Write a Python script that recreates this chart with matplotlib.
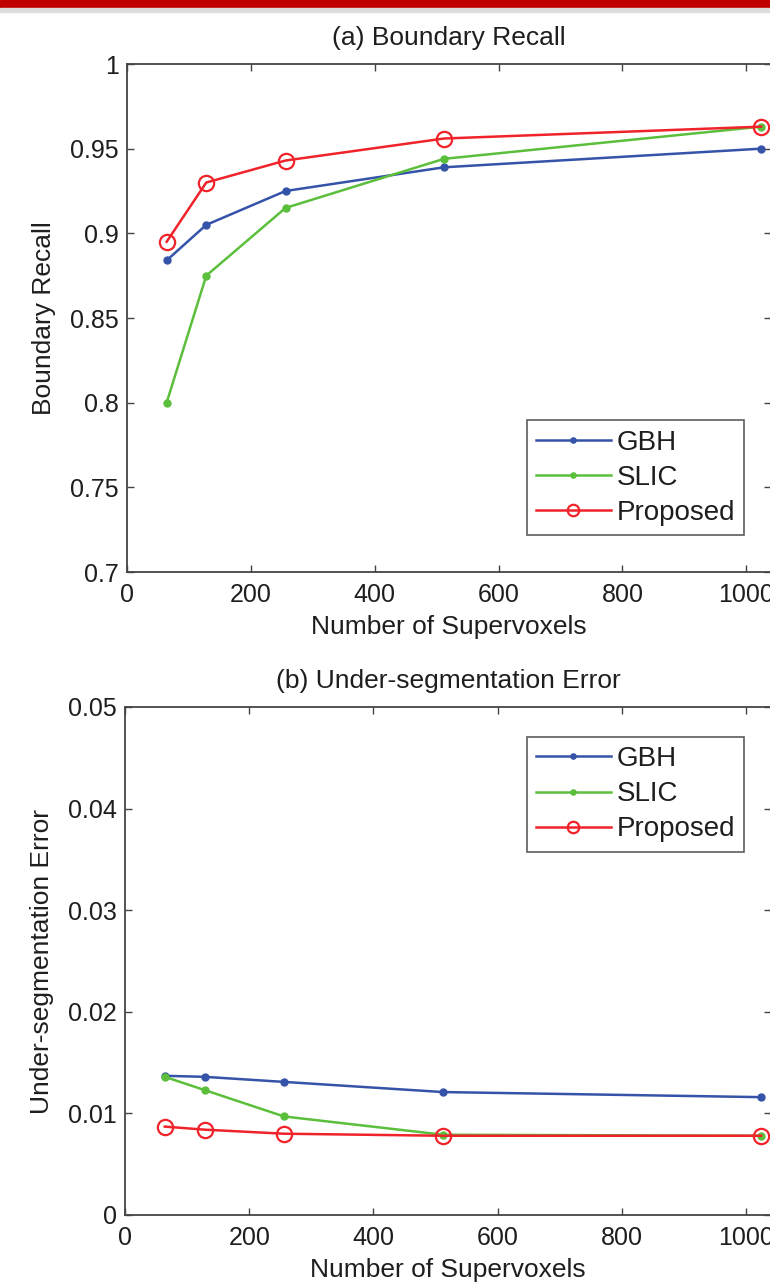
import matplotlib
matplotlib.use("Agg")
import matplotlib.pyplot as plt
from matplotlib.patches import Rectangle

plt.rcParams['font.family'] = ['Liberation Sans', 'DejaVu Sans']

# data
supervoxels = [64, 128, 256, 512, 1024]

recall_gbh = [0.884, 0.905, 0.925, 0.939, 0.950]
recall_slic = [0.800, 0.875, 0.915, 0.944, 0.963]
recall_prop = [0.895, 0.930, 0.943, 0.956, 0.963]

use_gbh = [0.0137, 0.0136, 0.0131, 0.0121, 0.0116]
use_slic = [0.0136, 0.0123, 0.0097, 0.0079, 0.0078]
use_prop = [0.0087, 0.0084, 0.0080, 0.0078, 0.0078]

series_names = ["GBH", "SLIC", "Proposed"]
x_ticks = [0, 200, 400, 600, 800, 1000]
recall_ticks = [0.7, 0.75, 0.8, 0.85, 0.9, 0.95, 1.0]
recall_labels = ["0.7", "0.75", "0.8", "0.85", "0.9", "0.95", "1"]
use_ticks = [0, 0.01, 0.02, 0.03, 0.04, 0.05]
use_labels = ["0", "0.01", "0.02", "0.03", "0.04", "0.05"]

blue = "#3553a8"
green = "#5cbf3c"
red = "#f0232a"
text_col = "#1e1e1e"

fig = plt.figure(figsize=(7.7, 12.87), dpi=100)

# red strip at the top of the page
fig.patches.append(Rectangle((0, 1 - 8 / 1287), 1, 8 / 1287, transform=fig.transFigure,
                             color="#c00000", zorder=0))
fig.patches.append(Rectangle((0, 1 - 12 / 1287), 1, 4 / 1287, transform=fig.transFigure,
                             color="#dddddd", zorder=0))

ax1 = fig.add_axes([127 / 770, 1 - 572 / 1287, 644 / 770, 508 / 1287])
ax2 = fig.add_axes([125 / 770, 1 - 1215 / 1287, 646 / 770, 508 / 1287])

# legend box corners in pixels, converted to axes fractions below
legend_anchor = {
    "lower right": ((744 - 127) / 644, (572 - 535) / 508),
    "upper right": ((744 - 125) / 646, 1 - (737 - 707) / 508),
}


def draw(ax, gbh, slic, prop, yticks, ylabels, ylim, title, ylabel, legend_loc):
    ax.plot(supervoxels, gbh, "-o", color=blue, lw=1.8, ms=5, label=series_names[0])
    ax.plot(supervoxels, slic, "-o", color=green, lw=1.8, ms=5, label=series_names[1])
    ax.plot(supervoxels, prop, "-o", color=red, lw=1.8, ms=11, mfc="none", mew=1.6,
            label=series_names[2])
    ax.set_xlim(0, 1040)
    ax.set_ylim(*ylim)
    ax.set_xticks(x_ticks)
    ax.set_yticks(yticks)
    ax.set_yticklabels(ylabels)
    ax.tick_params(direction="in", length=5, width=1, top=True, right=True,
                   labelsize=18, colors="#444444", labelcolor=text_col)
    ax.tick_params(axis="x", pad=8)
    ax.tick_params(axis="y", pad=6)
    for s in ax.spines.values():
        s.set_color("#444444")
        s.set_linewidth(1.3)
    ax.set_title(title, fontsize=19, color=text_col, pad=14)
    ax.set_xlabel("Number of Supervoxels", fontsize=19, color=text_col, labelpad=6)
    ax.set_ylabel(ylabel, fontsize=19, color=text_col, labelpad=10)
    leg = ax.legend(loc=legend_loc, bbox_to_anchor=legend_anchor[legend_loc],
                    fontsize=20, frameon=True, fancybox=False, handlelength=2.7,
                    handletextpad=0.2, labelspacing=0.33, borderpad=0.33,
                    borderaxespad=0, markerscale=0.75)
    leg.get_frame().set_edgecolor("#333333")
    leg.get_frame().set_linewidth(1.2)
    for t in leg.get_texts():
        t.set_color(text_col)


draw(ax1, recall_gbh, recall_slic, recall_prop, recall_ticks, recall_labels, (0.7, 1.0),
     "(a) Boundary Recall", "Boundary Recall", "lower right")
draw(ax2, use_gbh, use_slic, use_prop, use_ticks, use_labels, (0, 0.05),
     "(b) Under-segmentation Error", "Under-segmentation Error", "upper right")

fig.savefig("out.png", dpi=100)
